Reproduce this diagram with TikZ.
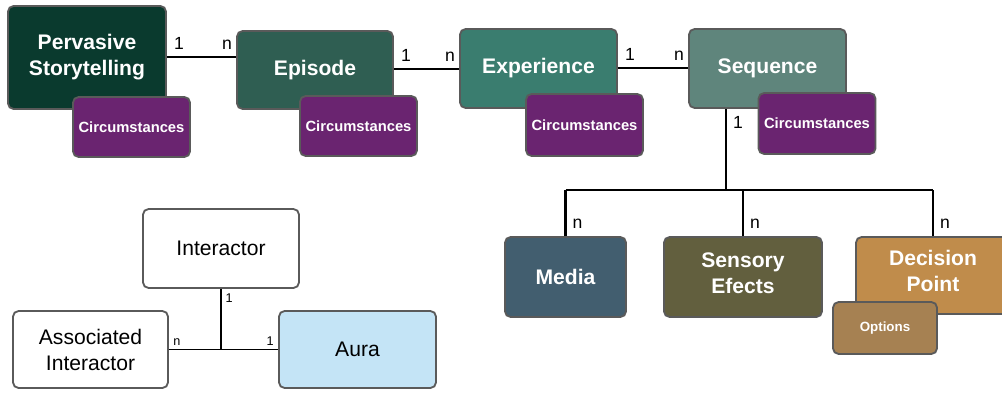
\documentclass[tikz,border=0pt]{standalone}
\usepackage{fontspec}
\setmainfont{Liberation Sans}
\definecolor{BoxGray}{RGB}{90,90,90}
\definecolor{StoryGreen}{RGB}{10,58,46}
\definecolor{EpisodeGreen}{RGB}{47,94,82}
\definecolor{ExpGreen}{RGB}{58,125,111}
\definecolor{SeqGreen}{RGB}{95,133,124}
\definecolor{CircPurple}{RGB}{106,36,112}
\definecolor{MediaBlue}{RGB}{66,94,111}
\definecolor{SensOlive}{RGB}{98,95,62}
\definecolor{DecOrange}{RGB}{192,140,75}
\definecolor{OptBrown}{RGB}{166,129,82}
\definecolor{AuraBlue}{RGB}{196,228,246}
\usetikzlibrary{positioning}

\begin{document}
\begin{tikzpicture}[x=0.025cm, y=-0.025cm,
    box/.style={draw=BoxGray, line width=1.3pt, rounded corners=4pt, align=center, inner sep=2pt},
    bigbox/.style={box, text=white, font=\fontsize{15}{18.5}\selectfont\bfseries},
    circbox/.style={box, fill=CircPurple, text=white, font=\fontsize{10.5}{12}\selectfont\bfseries,
      minimum width=2.925cm, minimum height=1.5cm},
    plainbox/.style={box, font=\fontsize{15}{18.5}\selectfont, minimum width=3.9cm, minimum height=1.925cm},
    link/.style={line width=2.1pt},
    thinlink/.style={line width=1.4pt},
    lbl/.style={font=\fontsize{12.5}{14}\selectfont, inner sep=4pt},
    smalllbl/.style={font=\fontsize{9}{10}\selectfont, inner sep=2.5pt}]
  \useasboundingbox (0,0) rectangle (1002,394);

  % upper chain
  \node[bigbox, fill=StoryGreen, minimum width=3.95cm, minimum height=2.575cm] (story) at (87,57.5) {Pervasive\\Storytelling};
  \node[bigbox, fill=EpisodeGreen, minimum width=3.9cm, minimum height=1.95cm] (episode) at (315,70) {Episode};
  \node[bigbox, fill=ExpGreen, minimum width=3.925cm, minimum height=1.975cm] (exp) at (538.5,68.5) {Experience};
  \node[bigbox, fill=SeqGreen, minimum width=3.925cm, minimum height=1.975cm] (seq) at (767.5,68.5) {Sequence};

  \node[circbox] (circ1) at (131.5,127) {Circumstances};
  \node[circbox] (circ2) at (358.5,126) {Circumstances};
  \node[circbox, minimum height=1.55cm] (circ3) at (584.5,125) {Circumstances};
  \node[circbox, minimum height=1.525cm] (circ4) at (817,123.5) {Circumstances};

  \draw[link] (story.east |- 0,57) -- (episode.west |- 0,57)
    node[lbl, pos=0, above right]{1} node[lbl, pos=1, above left, xshift=2pt]{n};
  \draw[link] (episode.east |- 0,69) -- (exp.west |- 0,69)
    node[lbl, pos=0, above right]{1} node[lbl, pos=1, above left, xshift=2pt]{n};
  \draw[link] (exp.east |- 0,68) -- (seq.west |- 0,68)
    node[lbl, pos=0, above right]{1} node[lbl, pos=1, above left, xshift=2pt]{n};

  % sequence parts
  \node[bigbox, fill=MediaBlue, minimum width=3.025cm, minimum height=2cm] (media) at (565.5,277) {Media};
  \node[bigbox, fill=SensOlive, minimum width=3.95cm, minimum height=2cm, text depth=6pt] (sens) at (743,277) {Sensory\\Efects};
  \node[bigbox, fill=DecOrange, minimum width=3.85cm, minimum height=1.925cm, text depth=6pt] (dec) at (933,275.5) {Decision\\Point};
  \node[box, fill=OptBrown, text=white, font=\fontsize{9.5}{11}\selectfont\bfseries,
    minimum width=2.6cm, minimum height=1.3cm] (opt) at (885,328) {Options};

  \coordinate (bus) at (726,190);
  \draw[link] (seq.south -| bus) -- (bus) node[lbl, pos=0, below right]{1};
  \draw[link] (media.north |- bus) -- (dec.north |- bus);
  \foreach \part in {media, sens, dec}
    \draw[link] (\part.north) -- (\part.north |- bus) node[lbl, pos=0, above right]{n};

  % interactor group
  \node[plainbox, minimum height=1.975cm] (inter) at (221,248.5) {Interactor};
  \node[plainbox, minimum width=3.875cm] (assoc) at (90.5,349.5) {Associated\\Interactor};
  \node[plainbox, fill=AuraBlue, minimum width=3.925cm] (aura) at (357.5,349.5) {Aura};

  \draw[thinlink] (assoc.east) -- (aura.west)
    node[smalllbl, pos=0, above right]{n} node[smalllbl, pos=1, above left]{1};
  \draw[thinlink] (inter.south) -- (inter.south |- assoc.east)
    node[smalllbl, pos=0, below right]{1};
\end{tikzpicture}
\end{document}
